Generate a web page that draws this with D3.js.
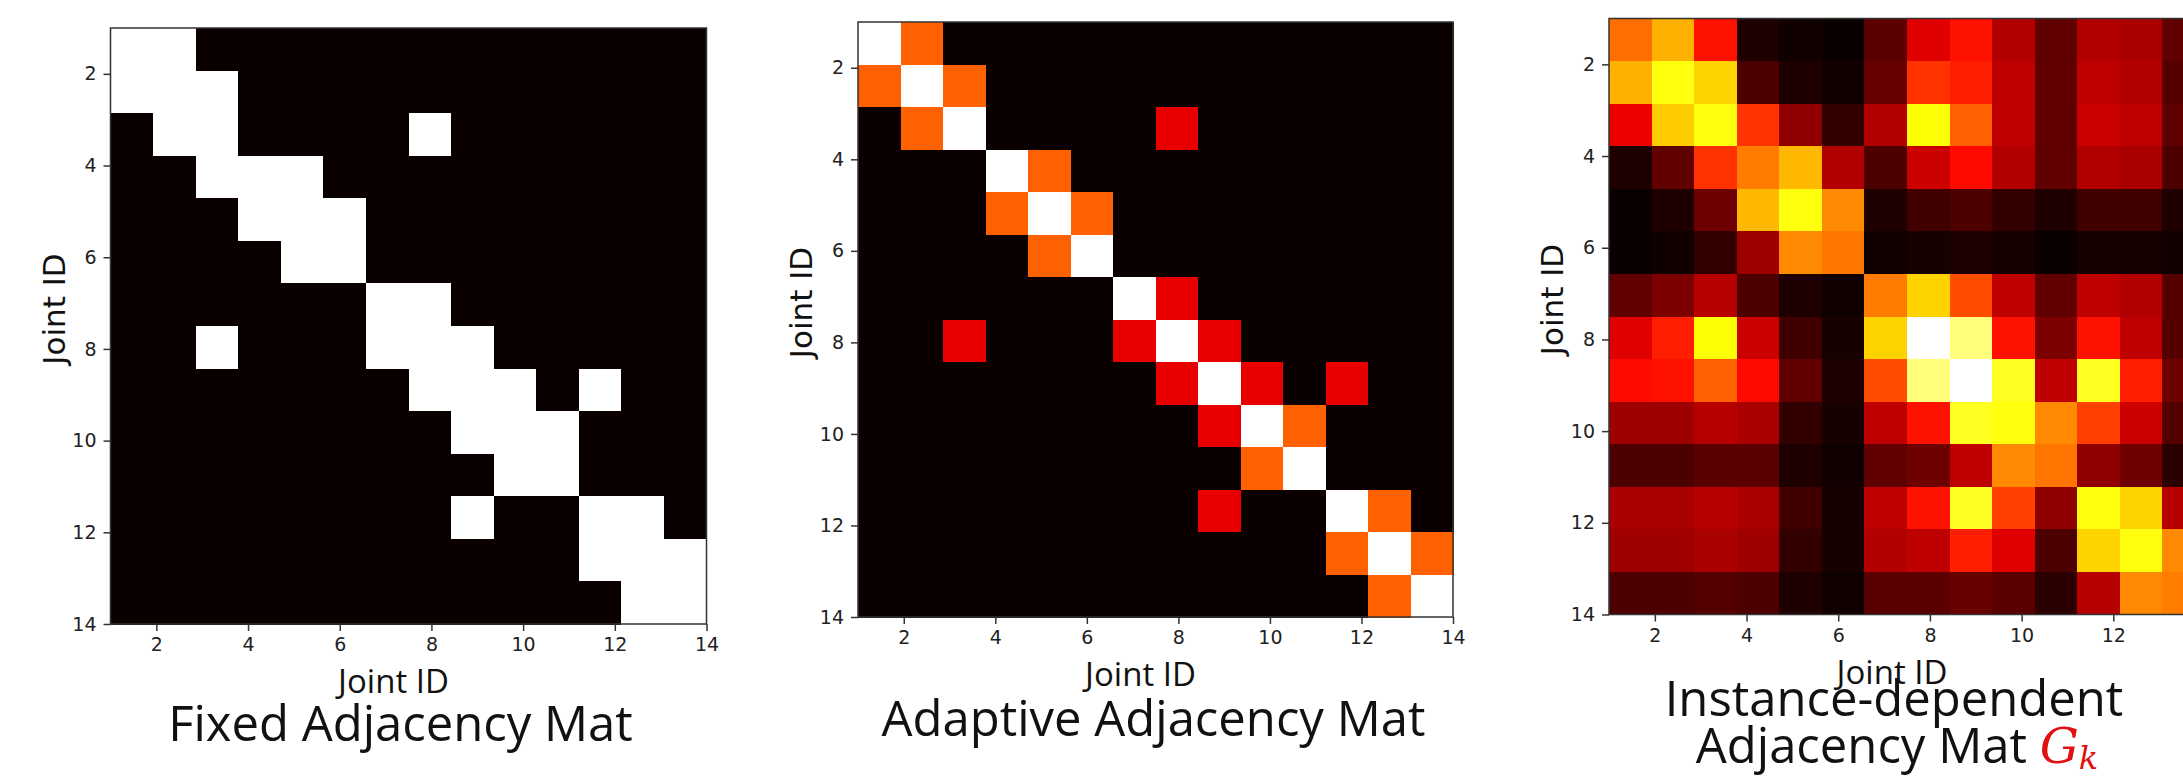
<!DOCTYPE html>
<html>
<head>
<meta charset="utf-8">
<script src="https://cdn.jsdelivr.net/npm/d3@7"></script>
<style>
    html, body { margin: 0; padding: 0; background: #ffffff; }
    svg { display: block; }
    .tick-label { font-family: "DejaVu Sans", sans-serif; font-size: 19px; fill: #222; }
    .ylab { font-family: "DejaVu Sans", sans-serif; font-size: 31px; fill: #111; }
    .xlab { font-family: "Open Sans", sans-serif; font-size: 33px; fill: #111; }
    .title { font-family: "Open Sans", sans-serif; font-size: 49px; fill: #111; }
</style>
</head>
<body>
<div id="chart"></div>
<script>
// Joint IDs and tick labels
const jointIds = d3.range(14);
const jointTicks = [2, 4, 6, 8, 10, 12, 14];

// Fixed adjacency (0/1)
const fixedAdj = [
    [1,1,0,0,0,0,0,0,0,0,0,0,0,0],
    [1,1,1,0,0,0,0,0,0,0,0,0,0,0],
    [0,1,1,0,0,0,0,1,0,0,0,0,0,0],
    [0,0,1,1,1,0,0,0,0,0,0,0,0,0],
    [0,0,0,1,1,1,0,0,0,0,0,0,0,0],
    [0,0,0,0,1,1,0,0,0,0,0,0,0,0],
    [0,0,0,0,0,0,1,1,0,0,0,0,0,0],
    [0,0,1,0,0,0,1,1,1,0,0,0,0,0],
    [0,0,0,0,0,0,0,1,1,1,0,1,0,0],
    [0,0,0,0,0,0,0,0,1,1,1,0,0,0],
    [0,0,0,0,0,0,0,0,0,1,1,0,0,0],
    [0,0,0,0,0,0,0,0,1,0,0,1,1,0],
    [0,0,0,0,0,0,0,0,0,0,0,1,1,1],
    [0,0,0,0,0,0,0,0,0,0,0,0,1,1]
];

// Adaptive adjacency (white = 1, orange ~ 0.51, red ~ 0.33)
const adaptiveAdj = [
    [1.00,0.51,0,0,0,0,0,0,0,0,0,0,0,0],
    [0.51,1.00,0.51,0,0,0,0,0,0,0,0,0,0,0],
    [0,0.51,1.00,0,0,0,0,0.33,0,0,0,0,0,0],
    [0,0,0,1.00,0.51,0,0,0,0,0,0,0,0,0],
    [0,0,0,0.51,1.00,0.51,0,0,0,0,0,0,0,0],
    [0,0,0,0,0.51,1.00,0,0,0,0,0,0,0,0],
    [0,0,0,0,0,0,1.00,0.33,0,0,0,0,0,0],
    [0,0,0.33,0,0,0,0.33,1.00,0.33,0,0,0,0,0],
    [0,0,0,0,0,0,0,0.33,1.00,0.33,0,0.33,0,0],
    [0,0,0,0,0,0,0,0,0.33,1.00,0.51,0,0,0],
    [0,0,0,0,0,0,0,0,0,0.51,1.00,0,0,0],
    [0,0,0,0,0,0,0,0,0.33,0,0,1.00,0.51,0],
    [0,0,0,0,0,0,0,0,0,0,0,0.51,1.00,0.51],
    [0,0,0,0,0,0,0,0,0,0,0,0,0.51,1.00]
];

// Instance-dependent adjacency G_k
const instanceAdj = [
    [0.53,0.63,0.39,0.03,0.01,0.00,0.12,0.32,0.39,0.25,0.13,0.25,0.24,0.13],
    [0.63,0.76,0.68,0.10,0.03,0.01,0.14,0.44,0.41,0.27,0.13,0.27,0.25,0.11],
    [0.34,0.67,0.76,0.44,0.20,0.06,0.25,0.75,0.51,0.27,0.13,0.29,0.27,0.13],
    [0.03,0.13,0.44,0.55,0.64,0.25,0.10,0.29,0.38,0.25,0.13,0.25,0.24,0.10],
    [0.00,0.03,0.15,0.64,0.76,0.57,0.03,0.08,0.10,0.06,0.03,0.08,0.08,0.03],
    [0.00,0.01,0.06,0.22,0.57,0.54,0.01,0.02,0.03,0.02,0.00,0.02,0.02,0.01],
    [0.13,0.17,0.26,0.10,0.03,0.01,0.55,0.68,0.48,0.27,0.13,0.27,0.25,0.11],
    [0.32,0.41,0.75,0.29,0.08,0.02,0.68,1.00,0.87,0.39,0.17,0.39,0.27,0.11],
    [0.38,0.39,0.51,0.38,0.13,0.03,0.48,0.87,1.00,0.78,0.27,0.78,0.41,0.15],
    [0.22,0.22,0.26,0.24,0.06,0.02,0.27,0.39,0.78,0.76,0.57,0.46,0.29,0.11],
    [0.10,0.10,0.12,0.12,0.03,0.01,0.13,0.15,0.27,0.57,0.54,0.20,0.15,0.05],
    [0.24,0.24,0.26,0.24,0.08,0.02,0.27,0.39,0.78,0.46,0.20,0.76,0.68,0.26],
    [0.22,0.22,0.24,0.22,0.06,0.02,0.25,0.27,0.41,0.32,0.10,0.68,0.76,0.57],
    [0.10,0.10,0.11,0.10,0.03,0.01,0.12,0.12,0.14,0.12,0.05,0.26,0.57,0.55]
];

const W = 2183, H = 777;

// matplotlib "hot" colormap
const hot = d3.scaleLinear()
    .domain([0, 0.365, 0.746, 1])
    .range(['rgb(10,0,0)', 'rgb(255,0,0)', 'rgb(255,255,0)', 'rgb(255,255,255)'])
    .clamp(true);

const svg = d3.select('#chart').append('svg')
    .attr('width', W)
    .attr('height', H);

const panels = [
    { mat: fixedAdj, left: 110.5, top: 28, size: 596, title: [{ text: 'Fixed Adjacency Mat', dx: -8, y: 741 }] },
    { mat: adaptiveAdj, left: 858, top: 22, size: 595, title: [{ text: 'Adaptive Adjacency Mat', dx: -2, y: 736 }] },
    { mat: instanceAdj, left: 1609, top: 18.5, size: 596, title: [
        { text: 'Instance-dependent', dx: -13, y: 716 },
        { text: 'Adjacency Mat ', dx: -10, y: 763, math: true }
    ] }
];

panels.forEach(p => {
    const g = svg.append('g');
    const right = p.left + p.size;
    const bottom = p.top + p.size;

    const x = d3.scaleLinear().domain([1, 14]).range([p.left, right]);
    const y = d3.scaleLinear().domain([1, 14]).range([p.top, bottom]);

    // cells spread over the [1, 14] extent
    const xb = d3.scaleBand().domain(jointIds).range([x(1), x(14)]);
    const yb = d3.scaleBand().domain(jointIds).range([y(1), y(14)]);

    const cells = [];
    p.mat.forEach((row, r) => row.forEach((v, c) => cells.push({ r, c, v })));

    g.selectAll('rect.cell')
        .data(cells)
        .join('rect')
        .attr('class', 'cell')
        .attr('x', d => xb(d.c))
        .attr('y', d => yb(d.r))
        .attr('width', xb.bandwidth() + 0.5)
        .attr('height', yb.bandwidth() + 0.5)
        .attr('shape-rendering', 'crispEdges')
        .attr('fill', d => hot(d.v));

    // frame
    g.append('rect')
        .attr('x', p.left)
        .attr('y', p.top)
        .attr('width', p.size)
        .attr('height', p.size)
        .attr('fill', 'none')
        .attr('stroke', '#333')
        .attr('stroke-width', 1.5);

    // axes
    const xAxis = d3.axisBottom(x).tickValues(jointTicks).tickSize(7).tickPadding(7);
    const yAxis = d3.axisLeft(y).tickValues(jointTicks).tickSize(7).tickPadding(7);

    const gx = g.append('g').attr('transform', `translate(0,${bottom})`).call(xAxis);
    const gy = g.append('g').attr('transform', `translate(${p.left},0)`).call(yAxis);

    [gx, gy].forEach(ax => {
        ax.select('.domain').remove();
        ax.selectAll('.tick line').attr('stroke', '#333').attr('stroke-width', 1.5);
        ax.selectAll('.tick text').attr('class', 'tick-label').attr('fill', null);
    });
    gx.selectAll('.tick text').attr('dy', '0.71em');

    // axis labels
    g.append('text')
        .attr('class', 'ylab')
        .attr('transform', `translate(${p.left - 46},${(p.top + bottom) / 2 - 17}) rotate(-90)`)
        .attr('text-anchor', 'middle')
        .text('Joint ID');

    g.append('text')
        .attr('class', 'xlab')
        .attr('x', (p.left + right) / 2 - 15)
        .attr('y', bottom + 69)
        .attr('text-anchor', 'middle')
        .text('Joint ID');

    // titles below each panel
    p.title.forEach(t => {
        const tt = g.append('text')
            .attr('class', 'title')
            .attr('x', (p.left + right) / 2 + t.dx)
            .attr('y', t.y)
            .attr('text-anchor', 'middle')
            .attr('xml:space', 'preserve');
        tt.append('tspan').text(t.text);
        if (t.math) {
            tt.append('tspan')
                .attr('font-family', '"DejaVu Serif", serif')
                .attr('font-style', 'italic')
                .attr('fill', '#e01010')
                .text('G');
            tt.append('tspan')
                .attr('font-family', '"DejaVu Serif", serif')
                .attr('font-style', 'italic')
                .attr('font-size', '32px')
                .attr('fill', '#e01010')
                .attr('dy', 6)
                .text('k');
        }
    });
});
</script>
</body>
</html>
